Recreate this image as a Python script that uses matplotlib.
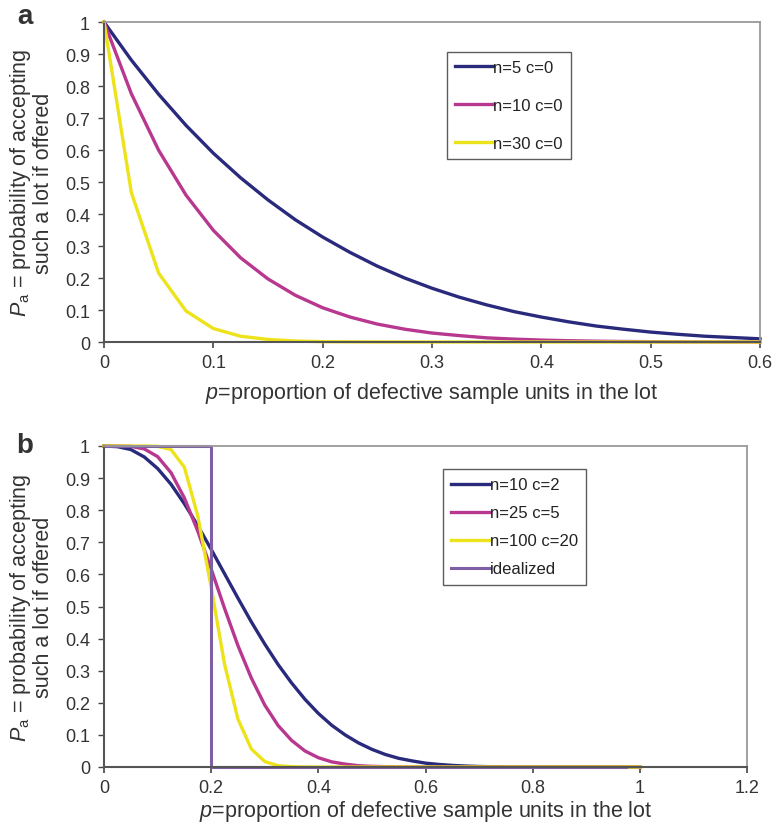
import matplotlib
matplotlib.use("Agg")
import matplotlib.pyplot as plt

plt.rcParams['font.family'] = ['Liberation Sans', 'DejaVu Sans']
plt.rcParams['mathtext.fontset'] = 'custom'
plt.rcParams['mathtext.rm'] = 'Liberation Sans'
plt.rcParams['mathtext.it'] = 'Liberation Sans:italic'

# ---------- Panel a data ----------
p_a = [0, 0.025, 0.05, 0.075, 0.1, 0.125, 0.15, 0.175, 0.2, 0.225, 0.25, 0.275, 0.3,
       0.325, 0.35, 0.375, 0.4, 0.425, 0.45, 0.475, 0.5, 0.525, 0.55, 0.575, 0.6]
n5_c0 = [1.0, 0.881, 0.774, 0.677, 0.590, 0.513, 0.444, 0.382, 0.328, 0.280, 0.237, 0.200, 0.168,
         0.140, 0.116, 0.095, 0.078, 0.063, 0.050, 0.040, 0.031, 0.024, 0.018, 0.014, 0.010]
n10_c0 = [1.0, 0.776, 0.599, 0.459, 0.349, 0.263, 0.197, 0.146, 0.107, 0.078, 0.056, 0.040, 0.028,
          0.020, 0.013, 0.009, 0.006, 0.004, 0.0025, 0.0016, 0.001, 0.0006, 0.0003, 0.0002, 0.0001]
n30_c0 = [1.0, 0.467, 0.215, 0.097, 0.042, 0.018, 0.008, 0.003, 0.001, 0.0005, 0.0002, 0.0, 0.0,
          0.0, 0.0, 0.0, 0.0, 0.0, 0.0, 0.0, 0.0, 0.0, 0.0, 0.0, 0.0]
labels_a = ["n=5 c=0", "n=10 c=0", "n=30 c=0"]
xticks_a = [0, 0.1, 0.2, 0.3, 0.4, 0.5, 0.6]
xticklabels_a = ["0", "0.1", "0.2", "0.3", "0.4", "0.5", "0.6"]

# ---------- Panel b data ----------
p_b = [0, 0.025, 0.05, 0.075, 0.1, 0.125, 0.15, 0.175, 0.2, 0.225, 0.25, 0.275, 0.3,
       0.325, 0.35, 0.375, 0.4, 0.425, 0.45, 0.475, 0.5, 0.525, 0.55, 0.575, 0.6,
       0.625, 0.65, 0.675, 0.7, 0.725, 0.75, 0.775, 0.8, 0.825, 0.85, 0.875, 0.9,
       0.925, 0.95, 0.975, 1.0]
n10_c2 = [1.0, 0.998, 0.989, 0.966, 0.930, 0.881, 0.820, 0.752, 0.678, 0.602, 0.526, 0.452, 0.383,
          0.319, 0.262, 0.211, 0.167, 0.130, 0.100, 0.075, 0.055, 0.039, 0.027, 0.019, 0.012,
          0.008, 0.005, 0.003, 0.0016, 0.0009, 0.0004, 0.0002, 0.0001, 0.0, 0.0, 0.0, 0.0,
          0.0, 0.0, 0.0, 0.0]
n25_c5 = [1.0, 1.0, 0.999, 0.991, 0.967, 0.917, 0.838, 0.735, 0.617, 0.494, 0.378, 0.277, 0.193,
          0.129, 0.083, 0.050, 0.029, 0.016, 0.009, 0.004, 0.002, 0.001, 0.0004, 0.0002, 0.0001,
          0.0, 0.0, 0.0, 0.0, 0.0, 0.0, 0.0, 0.0, 0.0, 0.0, 0.0, 0.0,
          0.0, 0.0, 0.0, 0.0]
n100_c20 = [1.0, 1.0, 1.0, 1.0, 0.999, 0.989, 0.934, 0.782, 0.560, 0.320, 0.149, 0.056, 0.017,
            0.004, 0.001, 0.0001, 0.0, 0.0, 0.0, 0.0, 0.0, 0.0, 0.0, 0.0, 0.0,
            0.0, 0.0, 0.0, 0.0, 0.0, 0.0, 0.0, 0.0, 0.0, 0.0, 0.0, 0.0,
            0.0, 0.0, 0.0, 0.0]
ideal_p = [0, 0.2, 0.2, 0.975]
ideal_pa = [1, 1, 0, 0]
labels_b = ["n=10 c=2", "n=25 c=5", "n=100 c=20", "idealized"]
xticks_b = [0, 0.2, 0.4, 0.6, 0.8, 1.0, 1.2]
xticklabels_b = ["0", "0.2", "0.4", "0.6", "0.8", "1", "1.2"]

yticks = [0, 0.1, 0.2, 0.3, 0.4, 0.5, 0.6, 0.7, 0.8, 0.9, 1.0]
yticklabels = ["0", "0.1", "0.2", "0.3", "0.4", "0.5", "0.6", "0.7", "0.8", "0.9", "1"]

NAVY = "#2a2a7c"
MAGENTA = "#b8378f"
YELLOW = "#ede31a"
PURPLE = "#7e5fa6"
TXT = "#333333"

W, H = 781, 829
fig = plt.figure(figsize=(W / 100, H / 100), dpi=100)

ax_a = fig.add_axes([104 / W, 1 - 343 / H, (760 - 104) / W, (343 - 23) / H])
ax_b = fig.add_axes([104 / W, 1 - 768 / H, (747 - 104) / W, (768 - 447) / H])

xlabel = "$\\mathit{p}$=proportion of defective sample units in the lot"
ylabel = "$\\mathit{P}_{\\mathrm{a}}$ = probability of accepting\nsuch a lot if offered"


def style(ax, xticks, xticklabels, xmax, ylab_x, xlab_y):
    ax.set_xlim(0, xmax)
    ax.set_ylim(0, 1)
    ax.set_xticks(xticks)
    ax.set_xticklabels(xticklabels)
    ax.set_yticks(yticks)
    ax.set_yticklabels(yticklabels)
    ax.tick_params(axis='both', labelsize=13, colors="#444444", labelcolor=TXT)
    ax.tick_params(axis='x', direction='out', length=4, width=1.2, pad=5)
    ax.tick_params(axis='y', direction='out', length=4.5, width=1.0, pad=5.5)
    for s in ['left', 'bottom']:
        ax.spines[s].set_color("#555555")
        ax.spines[s].set_linewidth(1.5)
    for s in ['top', 'right']:
        ax.spines[s].set_color("#9a9a9a")
        ax.spines[s].set_linewidth(1.3)
    ax.set_xlabel(xlabel, fontsize=15.5, color=TXT)
    ax.set_ylabel(ylabel, fontsize=15.5, color=TXT, linespacing=1.05)
    ax.xaxis.set_label_coords(0.5, xlab_y)
    ax.xaxis.label.set_va('center')
    ax.yaxis.set_label_coords(ylab_x, 0.5)
    ax.yaxis.label.set_va('center')


LW = 2.4

# Panel a
ax_a.plot(p_a, n5_c0, color=NAVY, lw=LW, label=labels_a[0], clip_on=False, solid_joinstyle='round')
ax_a.plot(p_a, n10_c0, color=MAGENTA, lw=LW, label=labels_a[1], clip_on=False, solid_joinstyle='round')
ax_a.plot(p_a, n30_c0, color=YELLOW, lw=LW, label=labels_a[2], clip_on=False, solid_joinstyle='round')
style(ax_a, xticks_a, xticklabels_a, 0.6, (31 - 104) / 656, -(393 - 343) / 320)
leg_a = ax_a.legend(loc='upper left', bbox_to_anchor=(343 / 656, 1 - 30 / 320), fontsize=12,
                    frameon=True, fancybox=False, edgecolor="#333333", handlelength=2.3,
                    handletextpad=0.0, labelspacing=1.38, borderpad=0.47, borderaxespad=0)
leg_a.get_frame().set_linewidth(1.0)
for t in leg_a.get_texts():
    t.set_color("#222222")
fig.text(25 / W, 1 - 17 / H, "a", fontsize=20, fontweight='bold', color=TXT,
         ha='center', va='center')

# Panel b
ax_b.plot(p_b, n10_c2, color=NAVY, lw=LW, label=labels_b[0], clip_on=False, solid_joinstyle='round')
ax_b.plot(p_b, n25_c5, color=MAGENTA, lw=LW, label=labels_b[1], clip_on=False, solid_joinstyle='round')
ax_b.plot(p_b, n100_c20, color=YELLOW, lw=LW, label=labels_b[2], clip_on=False, solid_joinstyle='round')
ax_b.plot(ideal_p, ideal_pa, color=PURPLE, lw=2.2, label=labels_b[3], clip_on=False)
style(ax_b, xticks_b, xticklabels_b, 1.2, (31 - 104) / 643, -(812 - 768) / 321)
leg_b = ax_b.legend(loc='upper left', bbox_to_anchor=(339 / 643, 1 - 23 / 321), fontsize=12,
                    frameon=True, fancybox=False, edgecolor="#333333", handlelength=2.3,
                    handletextpad=0.0, labelspacing=0.78, borderpad=0.5, borderaxespad=0)
leg_b.get_frame().set_linewidth(1.0)
for t in leg_b.get_texts():
    t.set_color("#222222")
fig.text(25 / W, 1 - 446 / H, "b", fontsize=20, fontweight='bold', color=TXT,
         ha='center', va='center')

fig.savefig("out.png", dpi=100)
